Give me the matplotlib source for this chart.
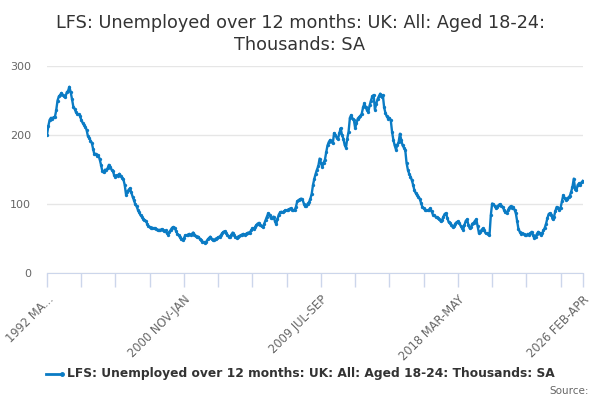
import matplotlib
matplotlib.use("Agg")
import matplotlib.pyplot as plt

plt.rcParams['font.family'] = ['DejaVu Sans']

title = "LFS: Unemployed over 12 months: UK: All: Aged 18-24:\nThousands: SA"
series_name = "LFS: Unemployed over 12 months: UK: All: Aged 18-24: Thousands: SA"

# Monthly rolling-quarter values (thousands), 1992 MAR-MAY .. 2026 FEB-APR
values = [
    200, 213, 222, 225, 224, 226, 226, 236, 250, 256, 258, 261, 258, 256, 255, 262, 264, 270, 262, 252,
    241, 238, 233, 231, 230, 228, 222, 218, 215, 212, 208, 199, 196, 192, 189, 180, 172, 173, 170, 171,
    165, 157, 148, 146, 150, 149, 152, 157, 154, 150, 148, 142, 139, 142, 141, 144, 141, 138, 136, 128,
    114, 118, 121, 123, 117, 111, 106, 100, 97, 92, 88, 84, 82, 79, 77, 76, 72, 68, 67, 66,
    66, 65, 65, 64, 62, 63, 62, 64, 63, 61, 62, 58, 56, 60, 63, 66, 67, 66, 61, 57,
    55, 52, 49, 48, 51, 55, 55, 56, 57, 55, 57, 59, 56, 54, 52, 53, 50, 48, 46, 45,
    44, 46, 49, 51, 53, 50, 48, 48, 50, 51, 52, 53, 55, 58, 60, 61, 58, 55, 53, 53,
    56, 59, 56, 52, 51, 53, 54, 55, 56, 57, 56, 57, 58, 59, 59, 62, 65, 64, 67, 70,
    72, 73, 70, 68, 67, 72, 77, 82, 87, 85, 80, 80, 82, 76, 71, 78, 85, 88, 89, 88,
    90, 91, 91, 92, 93, 94, 92, 91, 91, 96, 104, 106, 107, 108, 107, 101, 97, 98, 101, 103,
    108, 115, 128, 137, 144, 150, 155, 166, 160, 154, 160, 164, 175, 185, 190, 193, 191, 188, 203, 200,
    196, 195, 203, 210, 200, 195, 186, 182, 195, 205, 225, 229, 224, 222, 210, 217, 224, 226, 228, 231,
    240, 246, 240, 236, 234, 243, 250, 256, 258, 237, 245, 252, 256, 260, 255, 258, 240, 232, 227, 224,
    225, 222, 205, 193, 185, 179, 186, 190, 202, 193, 185, 182, 179, 160, 150, 144, 140, 135, 128, 120,
    116, 113, 111, 108, 102, 96, 94, 92, 91, 91, 92, 94, 90, 85, 84, 82, 81, 80, 78, 75,
    77, 82, 86, 87, 80, 74, 73, 70, 67, 68, 72, 74, 75, 73, 69, 66, 63, 70, 76, 78,
    70, 65, 67, 72, 73, 76, 78, 68, 58, 60, 63, 65, 62, 58, 58, 57, 55, 84, 101, 100,
    97, 94, 96, 99, 100, 98, 96, 92, 88, 87, 91, 95, 97, 95, 96, 92, 87, 75, 64, 60,
    57, 58, 57, 56, 55, 57, 56, 58, 60, 55, 51, 53, 57, 60, 58, 55, 58, 62, 66, 72,
    80, 86, 87, 85, 78, 82, 90, 96, 94, 91, 95, 104, 113, 109, 106, 108, 110, 112, 118, 125,
    137, 122, 120, 128, 130, 128, 132, 134,
]

tick_labels = ["1992 MA...", "2000 NOV-JAN", "2009 JUL-SEP", "2018 MAR-MAY", "2026 FEB-APR"]
y_ticks = [0, 100, 200, 300]

n = len(values)
xs = list(range(n))
label_pos = [0, 104, 208, 312, n - 1]
minor_pos = list(range(0, n, 26)) + [n - 1]

fig = plt.figure(figsize=(6, 4), dpi=100)
ax = fig.add_axes([47 / 600, 1 - 273.3 / 400, 536 / 600, (273.3 - 66) / 400])

color = '#0a7bc4'
ax.plot(xs, values, color=color, lw=1.7, marker='o', ms=2.4, mew=0, zorder=3)

ax.set_xlim(0, n - 1)
ax.set_ylim(0, 300)
ax.set_yticks(y_ticks)
ax.set_yticklabels([str(v) for v in y_ticks], color='#666666', fontsize=8)
ax.tick_params(axis='y', length=0, pad=11.5)
ax.grid(axis='y', color='#e6e6e6', lw=1)
ax.set_axisbelow(True)

ax.set_xticks(minor_pos, minor=True)
ax.set_xticks(label_pos)
ax.set_xticklabels(tick_labels, rotation=45, ha='right', rotation_mode='anchor',
                   color='#666666', fontsize=8.3)
ax.tick_params(axis='x', which='both', length=10, color='#ccd6eb', width=1, pad=4)

for s in ['top', 'right', 'left']:
    ax.spines[s].set_visible(False)
ax.spines['bottom'].set_color('#ccd6eb')

fig.text(0.5, 1 - 34 / 400, title, ha='center', va='center', fontsize=12.7,
         color='#333333', linespacing=1.3)

# legend
ly = 1 - 374 / 400
fig.add_artist(plt.Line2D([46 / 600, 62 / 600], [ly, ly], color=color, lw=2,
                          marker='o', ms=2.5, markevery=[1]))
fig.text(67 / 600, ly, series_name, ha='left', va='center', fontsize=8.85,
         fontweight='bold', color='#333333')
fig.text(589 / 600, 1 - 391 / 400, "Source:", ha='right', va='center', fontsize=7.5,
         color='#666666')

fig.savefig('out.png', dpi=100)
